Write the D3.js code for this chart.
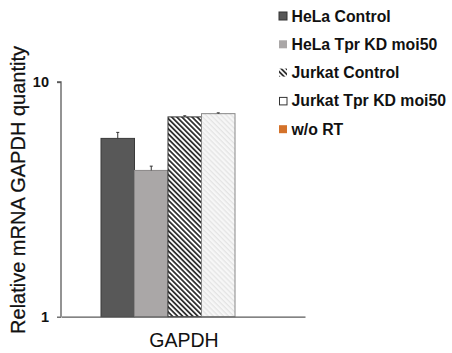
<!DOCTYPE html>
<html><head><meta charset="utf-8">
<script src="https://cdn.jsdelivr.net/npm/d3@7"></script>
<style>body{margin:0;background:#fff}svg{display:block}</style>
</head><body>
<svg id="c" width="452" height="353"></svg>
<script>
const categories = ["GAPDH"];
const series = ["HeLa Control","HeLa Tpr KD moi50","Jurkat Control","Jurkat Tpr KD moi50","w/o RT"];
const values = [5.75, 4.2, 7.1, 7.33, null];
const errors = [0.35, 0.18, 0.08, 0.06, null];
const yTicks = [1, 10];

const svg = d3.select("#c");
const defs = svg.append("defs");
const p1 = defs.append("pattern").attr("id","hatchDark").attr("patternUnits","userSpaceOnUse")
  .attr("width",3.6).attr("height",3.6).attr("patternTransform","rotate(45)");
p1.append("rect").attr("width",3.6).attr("height",3.6).attr("fill","#fff");
p1.append("rect").attr("width",3.6).attr("height",1.8).attr("fill","#333");
const p2 = defs.append("pattern").attr("id","hatchLight").attr("patternUnits","userSpaceOnUse")
  .attr("width",3.6).attr("height",3.6).attr("patternTransform","rotate(45)");
p2.append("rect").attr("width",3.6).attr("height",3.6).attr("fill","#f7f7f7");
p2.append("rect").attr("width",3.6).attr("height",1.3).attr("fill","#e4e4e4");

const fills = ["#585858","#aaa7a7","url(#hatchDark)","url(#hatchLight)","#d4722a"];
const strokes = ["#3a3a3a","#8a8888","#333","#888","#d4722a"];

const y = d3.scaleLog().domain([1,10]).range([316.7, 82]);
const x0 = d3.scaleBand().domain(categories).range([61, 305]).paddingInner(0).paddingOuter(0);
const x1 = d3.scaleBand().domain(series.slice(0,4)).range([101, 235]).padding(0);

// axes
const axisColor = "#5a5a5a";
const yAxis = svg.append("g").attr("transform","translate(61,0)")
  .call(d3.axisLeft(y).tickValues(yTicks).tickFormat(d3.format("d")).tickSize(4).tickPadding(8));
yAxis.select(".domain").attr("stroke",axisColor).attr("stroke-width",1.3).attr("d","M-4,82H0V316.7");
yAxis.selectAll(".tick line").attr("stroke",axisColor).attr("stroke-width",1.3);
yAxis.selectAll(".tick text").attr("font-family","Liberation Sans, Arial, sans-serif")
  .attr("font-weight","bold").attr("font-size",14.5).attr("fill","#111");

// bars
const g = svg.append("g");
series.slice(0,4).forEach((s,i)=>{
  const v = values[i];
  g.append("rect").attr("x", x1(s)).attr("y", y(v)).attr("width", x1.bandwidth())
    .attr("height", y(1)-y(v)).attr("fill", fills[i]).attr("stroke", strokes[i]).attr("stroke-width",1);
  const cx = x1(s) + x1.bandwidth()/2;
  const ye = y(v + errors[i]);
  g.append("line").attr("x1",cx).attr("x2",cx).attr("y1",y(v)).attr("y2",ye).attr("stroke","#333").attr("stroke-width",1);
  g.append("line").attr("x1",cx-1.5).attr("x2",cx+1.5).attr("y1",ye).attr("y2",ye).attr("stroke","#333").attr("stroke-width",1);
});

const xAxis = svg.append("g").attr("transform","translate(0,316.7)")
  .call(d3.axisBottom(x0).tickSize(0).tickPadding(0));
xAxis.select(".domain").attr("stroke",axisColor).attr("stroke-width",1.3);
xAxis.selectAll(".tick text").remove();
svg.append("text").attr("x",184).attr("y",347).attr("text-anchor","middle")
  .attr("font-family","Liberation Sans, Arial, sans-serif").attr("font-size",19.5).attr("fill","#111")
  .text(categories[0]);

// y label
svg.append("text").attr("transform","translate(25,190) rotate(-90)").attr("text-anchor","middle")
  .attr("font-family","Liberation Sans, Arial, sans-serif").attr("font-size",20).attr("fill","#111")
  .attr("stroke","#111").attr("stroke-width",0.25)
  .text("Relative mRNA GAPDH quantity");

// legend
const leg = svg.append("g");
series.forEach((s,i)=>{
  const cy = 16 + i*28.3;
  if (i===2) {
    leg.append("rect").attr("x",279).attr("y",cy-4).attr("width",8).attr("height",8).attr("fill","url(#hatchDark)");
  } else if (i===3) {
    leg.append("rect").attr("x",279.5).attr("y",cy-3.5).attr("width",7.5).attr("height",7.5).attr("fill","#fff").attr("stroke","#333").attr("stroke-width",1);
  } else {
    leg.append("rect").attr("x",279).attr("y",cy-4).attr("width",8).attr("height",8).attr("fill",fills[i]).attr("stroke",i===0?"#333":"none");
  }
  leg.append("text").attr("x",291.5).attr("y",cy+5.5)
    .attr("font-family","Liberation Sans, Arial, sans-serif").attr("font-weight","bold")
    .attr("font-size",15.8).attr("fill","#111").text(s);
});
</script>
</body></html>
